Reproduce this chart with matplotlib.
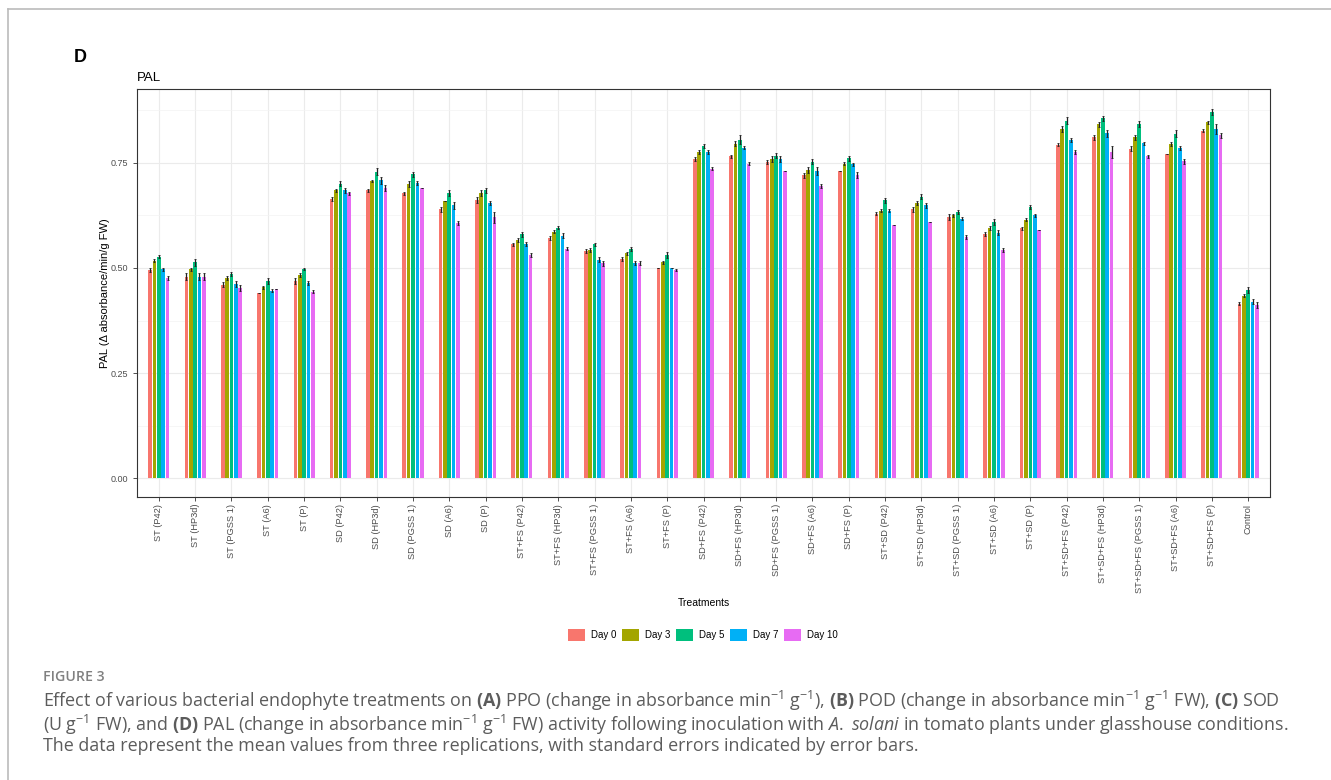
import numpy as np
import matplotlib
matplotlib.use("Agg")
import matplotlib.pyplot as plt
from matplotlib.patches import Patch
from matplotlib.lines import Line2D

plt.rcParams['font.family'] = ['Liberation Sans', 'DejaVu Sans']
plt.rcParams['mathtext.fontset'] = 'custom'
plt.rcParams['mathtext.rm'] = 'Open Sans'
plt.rcParams['mathtext.bf'] = 'Open Sans:bold'
plt.rcParams['mathtext.it'] = 'Open Sans:italic'

# treatments on the x axis
treatments = ['ST (P42)', 'ST (HP3d)', 'ST (PGSS 1)', 'ST (A6)', 'ST (P)',
              'SD (P42)', 'SD (HP3d)', 'SD (PGSS 1)', 'SD (A6)', 'SD (P)',
              'ST+FS (P42)', 'ST+FS (HP3d)', 'ST+FS (PGSS 1)', 'ST+FS (A6)', 'ST+FS (P)',
              'SD+FS (P42)', 'SD+FS (HP3d)', 'SD+FS (PGSS 1)', 'SD+FS (A6)', 'SD+FS (P)',
              'ST+SD (P42)', 'ST+SD (HP3d)', 'ST+SD (PGSS 1)', 'ST+SD (A6)', 'ST+SD (P)',
              'ST+SD+FS (P42)', 'ST+SD+FS (HP3d)', 'ST+SD+FS (PGSS 1)', 'ST+SD+FS (A6)', 'ST+SD+FS (P)',
              'Control']
days = ['Day 0', 'Day 3', 'Day 5', 'Day 7', 'Day 10']

# mean PAL activity per day
day0 = [0.495, 0.479, 0.460, 0.440, 0.469, 0.664, 0.684, 0.677, 0.639, 0.661,
        0.556, 0.572, 0.541, 0.521, 0.499, 0.759, 0.765, 0.752, 0.720, 0.730,
        0.629, 0.639, 0.621, 0.580, 0.594, 0.793, 0.810, 0.783, 0.771, 0.826, 0.415]
day3 = [0.517, 0.497, 0.476, 0.454, 0.483, 0.684, 0.707, 0.700, 0.660, 0.678,
        0.566, 0.586, 0.543, 0.535, 0.513, 0.775, 0.795, 0.759, 0.733, 0.748,
        0.636, 0.655, 0.625, 0.594, 0.615, 0.830, 0.841, 0.810, 0.795, 0.846, 0.434]
day5 = [0.527, 0.513, 0.486, 0.470, 0.497, 0.700, 0.729, 0.722, 0.679, 0.684,
        0.580, 0.596, 0.556, 0.545, 0.531, 0.789, 0.805, 0.767, 0.752, 0.761,
        0.661, 0.669, 0.633, 0.610, 0.645, 0.850, 0.856, 0.842, 0.819, 0.870, 0.448]
day7 = [0.497, 0.479, 0.461, 0.446, 0.464, 0.684, 0.708, 0.702, 0.649, 0.655,
        0.557, 0.576, 0.519, 0.511, 0.499, 0.775, 0.786, 0.759, 0.730, 0.746,
        0.636, 0.649, 0.617, 0.584, 0.625, 0.804, 0.820, 0.796, 0.785, 0.830, 0.420]
day10 = [0.476, 0.479, 0.452, 0.450, 0.444, 0.677, 0.690, 0.691, 0.607, 0.620,
         0.531, 0.546, 0.511, 0.511, 0.495, 0.736, 0.748, 0.730, 0.694, 0.720,
         0.602, 0.610, 0.574, 0.543, 0.590, 0.775, 0.775, 0.765, 0.753, 0.815, 0.412]

# standard errors
se0 = [0.004, 0.008, 0.006, 0.000, 0.006, 0.004, 0.004, 0.003, 0.006, 0.007,
       0.003, 0.005, 0.005, 0.005, 0.000, 0.004, 0.004, 0.005, 0.006, 0.000,
       0.004, 0.005, 0.006, 0.005, 0.003, 0.004, 0.005, 0.006, 0.000, 0.004, 0.003]
se3 = [0.004, 0.004, 0.004, 0.004, 0.005, 0.004, 0.003, 0.007, 0.000, 0.006,
       0.004, 0.004, 0.004, 0.004, 0.004, 0.005, 0.006, 0.007, 0.007, 0.004,
       0.004, 0.005, 0.004, 0.005, 0.003, 0.006, 0.006, 0.006, 0.005, 0.004, 0.004]
se5 = [0.004, 0.008, 0.004, 0.007, 0.003, 0.006, 0.008, 0.006, 0.007, 0.005,
       0.006, 0.004, 0.004, 0.004, 0.008, 0.005, 0.010, 0.005, 0.006, 0.006,
       0.006, 0.006, 0.004, 0.007, 0.004, 0.008, 0.006, 0.008, 0.008, 0.007, 0.007]
se7 = [0.004, 0.008, 0.007, 0.004, 0.004, 0.005, 0.008, 0.005, 0.008, 0.005,
       0.004, 0.006, 0.006, 0.005, 0.000, 0.004, 0.004, 0.007, 0.009, 0.004,
       0.004, 0.006, 0.004, 0.005, 0.004, 0.005, 0.008, 0.004, 0.004, 0.012, 0.006]
se10 = [0.004, 0.008, 0.007, 0.000, 0.004, 0.003, 0.008, 0.000, 0.004, 0.014,
        0.004, 0.004, 0.006, 0.005, 0.003, 0.004, 0.004, 0.000, 0.005, 0.007,
        0.000, 0.000, 0.005, 0.004, 0.000, 0.004, 0.015, 0.004, 0.005, 0.006, 0.006]

means = [day0, day3, day5, day7, day10]
errors = [se0, se3, se5, se7, se10]
colors = ['#F8766D', '#A3A500', '#00BF7D', '#00B0F6', '#E76BF3']

fig = plt.figure(figsize=(13.31, 7.80), dpi=100)
ax = fig.add_axes([137 / 1331, 1 - 497 / 780, (1270 - 137) / 1331, (497 - 89) / 780])

x = np.arange(1, len(treatments) + 1)
slot = 0.12
for k in range(len(days)):
    xs = x + (k - 2) * slot
    ax.bar(xs, means[k], width=0.1, color=colors[k], zorder=2)
    ax.errorbar(xs, means[k], yerr=errors[k], fmt='none', ecolor='#222222',
                elinewidth=0.9, capsize=0.8, capthick=0.6, zorder=3)

ax.set_xlim(0.4, len(treatments) + 0.6)
ax.set_ylim(-0.044, 0.925)
ax.set_yticks([0, 0.25, 0.5, 0.75])
ax.set_yticklabels(['0.00', '0.25', '0.50', '0.75'])
ax.set_yticks([0.125, 0.375, 0.625, 0.875], minor=True)
ax.set_xticks(x)
ax.set_xticklabels(treatments, rotation=90, fontsize=6.7, color='#4d4d4d')
ax.tick_params(axis='y', labelsize=6.5, labelcolor='#4d4d4d', length=3, color='#333333', width=0.6)
ax.tick_params(axis='x', length=3, color='#333333', width=0.6, pad=2)
ax.tick_params(which='minor', length=0)
ax.grid(True, which='major', color='#ebebeb', linewidth=0.8, zorder=0)
ax.grid(True, which='minor', axis='y', color='#f3f3f3', linewidth=0.5, zorder=0)
ax.set_axisbelow(True)
for s in ax.spines.values():
    s.set_color('#333333')
    s.set_linewidth(0.8)

ax.set_ylabel('PAL (Δ absorbance/min/g FW)', fontsize=8, labelpad=0)
ax.set_xlabel('Treatments', fontsize=7.5)
ax.xaxis.label.set_va('center')
ax.xaxis.set_label_coords(0.5, -106 / 408)
ax.set_title('PAL', loc='left', fontsize=9.5, pad=6)

handles = [Patch(facecolor=c, edgecolor='none') for c in colors]
fig.legend(handles, days, loc='center', bbox_to_anchor=(703 / 1331, 1 - 635 / 780), ncol=5,
           frameon=False, fontsize=7, handlelength=1.75, handleheight=1.65,
           handletextpad=0.6, columnspacing=0.6, borderaxespad=0)

fig.text(80 / 1331, 1 - 58 / 780, 'D', fontsize=13, fontweight='bold', ha='center', va='center')

# page frame
fig.add_artist(Line2D([8 / 1331, 1], [1 - 9 / 780, 1 - 9 / 780], color='#bbbbbb', lw=1.2))
fig.add_artist(Line2D([8 / 1331, 8 / 1331], [0, 1 - 9 / 780], color='#bbbbbb', lw=1.2))

cap_color = '#5c5c5c'
fig.text(43 / 1331, 1 - 677 / 780, 'FIGURE 3', fontsize=10.2, color='#808080',
         family='Open Sans', fontweight='semibold', va='center')
lines = [
    r'Effect of various bacterial endophyte treatments on $\mathbf{(A)}$ PPO (change in absorbance min$^{-1}$ g$^{-1}$), '
    r'$\mathbf{(B)}$ POD (change in absorbance min$^{-1}$ g$^{-1}$ FW), $\mathbf{(C)}$ SOD',
    r'(U g$^{-1}$ FW), and $\mathbf{(D)}$ PAL (change in absorbance min$^{-1}$ g$^{-1}$ FW) activity following inoculation '
    r'with $\mathit{A.\ solani}$ in tomato plants under glasshouse conditions.',
    'The data represent the mean values from three replications, with standard errors indicated by error bars.',
]
fig.text(43 / 1331, 1 - 722 / 780, '\n'.join(lines), fontsize=12.9, color=cap_color,
         family='Open Sans', va='center', linespacing=0.98)

fig.savefig('out.png', dpi=100)
